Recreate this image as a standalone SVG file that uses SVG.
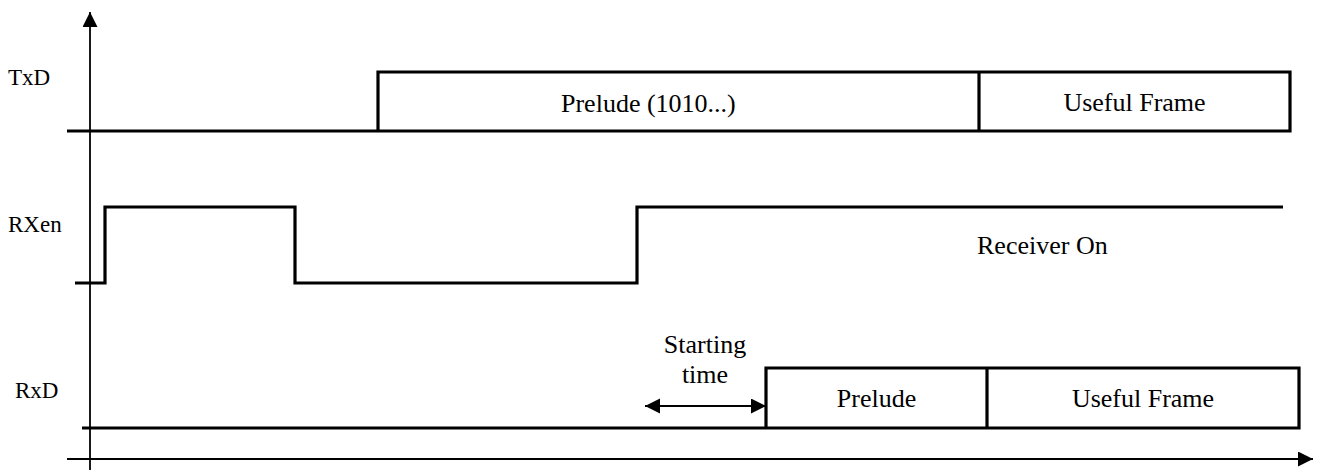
<svg xmlns="http://www.w3.org/2000/svg" width="1320" height="470" viewBox="0 0 1320 470">
<style>
  .sig { fill: none; stroke: #000; stroke-width: 3.2; stroke-linejoin: miter; stroke-linecap: butt; }
  .axis { fill: none; stroke: #000; stroke-width: 1.8; }
  .lbl { font-family: "Liberation Serif", "Times New Roman", serif; font-size: 23px; fill: #000; }
  .txt { font-family: "Liberation Serif", "Times New Roman", serif; font-size: 26px; fill: #000; }
  .mid { text-anchor: middle; }
</style>
<defs>
  <marker id="ah" markerWidth="16" markerHeight="16" refX="15" refY="7.5" orient="auto-start-reverse" markerUnits="userSpaceOnUse">
    <path d="M0,0 L15,7.5 L0,15 Z" fill="#000"/>
  </marker>
</defs>
<g id="axes">
  <line class="axis" x1="90" y1="470" x2="90" y2="12" marker-end="url(#ah)"/>
  <line class="axis" x1="67" y1="459" x2="1313" y2="459" marker-end="url(#ah)"/>
</g>
<g id="labels">
  <text class="lbl" x="8" y="85">TxD</text>
  <text class="lbl" x="8" y="232">RXen</text>
  <text class="lbl" x="15" y="398">RxD</text>
</g>
<g id="txd">
  <polyline class="sig" points="67,131 378,131 378,72 1290,72 1290,131 378,131"/>
  <line class="sig" x1="979" y1="72" x2="979" y2="131"/>
  <text class="txt" x="561" y="112">Prelude (1010...)</text>
  <text class="txt mid" x="1134.5" y="111">Useful Frame</text>
</g>
<g id="rxen">
  <polyline class="sig" points="75,283 105,283 105,207 295,207 295,283 637,283 637,207 1283,207"/>
  <text class="txt" x="977" y="254">Receiver On</text>
</g>
<g id="rxd">
  <polyline class="sig" points="82,428 766,428 766,368 1299,368 1299,428 766,428"/>
  <line class="sig" x1="987" y1="368" x2="987" y2="428"/>
  <text class="txt mid" x="876.5" y="407">Prelude</text>
  <text class="txt mid" x="1143" y="407">Useful Frame</text>
</g>
<g id="connectors">
  <line class="axis" x1="645" y1="406" x2="766" y2="406" marker-start="url(#ah)" marker-end="url(#ah)"/>
  <text class="txt mid" x="705" y="353">Starting</text>
  <text class="txt mid" x="705" y="383">time</text>
</g>
</svg>
